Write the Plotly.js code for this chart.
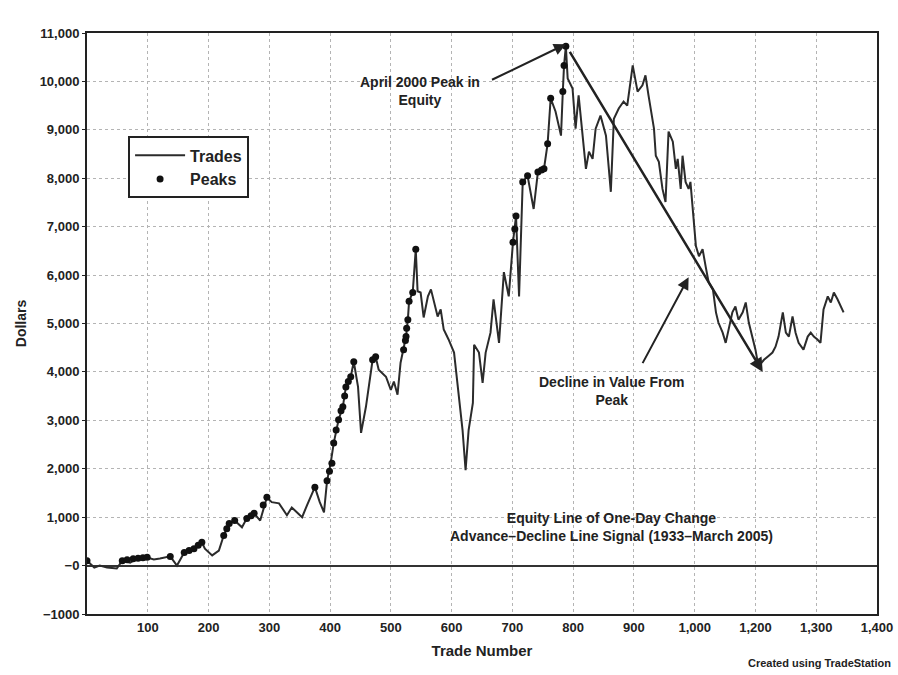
<!DOCTYPE html>
<html>
<head>
<meta charset="utf-8">
<script src="https://cdn.plot.ly/plotly-3.0.1.min.js"></script>
<style>html,body{margin:0;padding:0;background:#fff;}#chart{width:898px;height:675px;}</style>
</head>
<body>
<div id="chart"></div>
<script>
// Equity line (trade number, dollars)
const tradeNumbers = [0,12,21,33,49,58,71,82,99,110,120,137,148,160,176,189,194,206,217,225,234,243,255,263,275,285,296,304,316,329,337,345,354,362,375,383,390,395,401,406,414,421,426,434,439,446,451,459,464,470,475,480,492,500,505,511,516,521,525,528,530,536,541,544,549,554,561,566,571,577,582,587,595,604,612,618,623,628,635,637,645,651,656,664,669,678,686,694,701,706,711,717,725,735,742,752,758,763,771,780,783,785,788,791,799,804,809,816,821,826,832,837,845,854,862,867,875,883,889,898,906,914,919,924,933,936,941,947,952,957,964,969,972,977,980,985,990,993,998,1002,1007,1013,1018,1023,1030,1035,1039,1046,1051,1056,1062,1067,1072,1079,1084,1089,1095,1100,1105,1114,1120,1128,1133,1138,1145,1150,1155,1161,1166,1171,1179,1186,1191,1196,1202,1207,1212,1219,1224,1229,1235,1240,1245];
const equity = [100,-40,0,-40,-60,100,60,145,165,125,145,190,0,270,350,480,350,210,310,620,870,930,790,975,1080,930,1410,1310,1285,1040,1200,1100,1000,1245,1620,1310,1100,1750,2115,2530,3010,3280,3690,3900,4210,3690,2740,3280,3775,4250,4315,4045,3900,3630,3800,3530,4190,4460,4730,5080,5460,5640,6535,5665,5640,5125,5560,5705,5435,5145,5290,4875,4670,4400,3485,2800,1970,2800,3360,4560,4400,3775,4400,4810,5500,4600,6060,5560,6680,7220,5560,7925,8050,7365,8130,8195,8715,9650,9380,8880,9790,10330,10725,10060,9855,9025,9710,8880,8195,8550,8400,9025,9295,8880,7720,9230,9440,9585,9500,10330,9790,9920,10125,9710,9025,8465,8340,7780,7510,8965,8755,8195,8400,7780,8465,7925,7780,7925,7220,6600,6390,6535,6180,5850,5705,5230,5020,4810,4600,4875,5230,5350,5080,5230,5435,5020,4730,4460,4110,4250,4315,4400,4520,4730,5230,4810,4730,5145,4810,4600,4460,4730,4810,4730,4670,4600,5290,5560,5435,5640,5500,5350,5230];

// New equity highs marked as peaks
const peakTrades = [0,58,66,76,84,92,99,137,160,168,176,183,189,225,230,234,243,263,270,275,290,296,375,395,399,403,406,410,414,418,421,424,426,430,434,439,470,475,521,524,525,526,528,530,536,541,701,704,706,717,725,742,748,752,758,763,783,785,788];
const peakValues = [100,100,120,140,150,160,170,190,270,310,350,420,480,620,760,870,930,975,1030,1080,1250,1410,1620,1750,1950,2115,2530,2800,3010,3200,3280,3500,3690,3800,3900,4210,4250,4315,4460,4650,4730,4900,5080,5460,5640,6535,6680,6950,7220,7925,8050,8130,8170,8195,8715,9650,9790,10330,10725];

// Axis ticks (labels as printed on the original)
const xTickVals = [100,200,300,400,500,600,700,800,900,1000,1100,1200,1300];
const xTickText = ['100','200','300','400','500','600','700','800','900','1,000','1,200','1,300','1,400'];
const yTickVals = [-1000,0,1000,2000,3000,4000,5000,6000,7000,8000,9000,10000,11000];
const yTickText = ['−1000','−0','1,000','2,000','3,000','4,000','5,000','6,000','7,000','8,000','9,000','10,000','11,000'];

// Annotation anchor points (trade, dollars)
const peakPoint = [788, 10770];
const peakLabelTail = [664, 10020];
const declineEnd = [1112, 4000];
const declineStart = [793, 10640];
const declineArrowHead = [990, 5955];
const declineArrowTail = [913, 4150];

const FONT = 'Liberation Sans, Arial, Helvetica, sans-serif';
const INK = '#222';

const traces = [
  {x: tradeNumbers, y: equity, type: 'scatter', mode: 'lines', name: 'Trades',
   line: {color: '#2b2b2b', width: 2}},
  {x: peakTrades, y: peakValues, type: 'scatter', mode: 'markers', name: 'Peaks',
   marker: {color: '#111', size: 7}}
];

const layout = {
  width: 898, height: 675,
  margin: {l: 87, r: 21, t: 33, b: 61},
  paper_bgcolor: '#fff', plot_bgcolor: '#fff',
  font: {family: FONT, color: INK, size: 14},
  showlegend: true,
  legend: {x: 0.052, y: 0.822, xanchor: 'left', yanchor: 'top',
           bordercolor: '#222', borderwidth: 2, bgcolor: '#fff',
           font: {family: FONT, size: 16, color: INK, weight: 'bold'},
           itemwidth: 50, tracegroupgap: 6},
  xaxis: {
    range: [0, 1300], tickmode: 'array', tickvals: xTickVals, ticktext: xTickText,
    showgrid: true, gridcolor: '#b4b4b4', griddash: 'dot', gridwidth: 1,
    showline: true, linecolor: '#222', linewidth: 2, mirror: true,
    ticks: '', zeroline: false,
    tickfont: {family: FONT, size: 13, color: INK, weight: 'bold'},
    title: {text: 'Trade Number', font: {family: FONT, size: 15, color: INK, weight: 'bold'}, standoff: 12}
  },
  yaxis: {
    range: [-1000, 11000], tickmode: 'array', tickvals: yTickVals, ticktext: yTickText,
    showgrid: true, gridcolor: '#b4b4b4', griddash: 'dot', gridwidth: 1,
    showline: true, linecolor: '#222', linewidth: 2, mirror: true,
    ticks: 'outside', ticklen: 3, tickcolor: '#222',
    zeroline: true, zerolinecolor: '#333', zerolinewidth: 2,
    tickfont: {family: FONT, size: 13, color: INK, weight: 'bold'},
    title: {text: 'Dollars', font: {family: FONT, size: 14, color: INK, weight: 'bold'}, standoff: 10}
  },
  annotations: [
    {x: peakPoint[0], y: peakPoint[1], ax: peakLabelTail[0], ay: peakLabelTail[1],
     xref: 'x', yref: 'y', axref: 'x', ayref: 'y', text: '', showarrow: true,
     arrowhead: 2, arrowsize: 1.2, arrowwidth: 2, arrowcolor: '#222'},
    {x: declineEnd[0], y: declineEnd[1], ax: declineStart[0], ay: declineStart[1],
     xref: 'x', yref: 'y', axref: 'x', ayref: 'y', text: '', showarrow: true,
     arrowhead: 2, arrowsize: 1.1, arrowwidth: 2.5, arrowcolor: '#222'},
    {x: declineArrowHead[0], y: declineArrowHead[1], ax: declineArrowTail[0], ay: declineArrowTail[1],
     xref: 'x', yref: 'y', axref: 'x', ayref: 'y', text: '', showarrow: true,
     arrowhead: 2, arrowsize: 1.2, arrowwidth: 2, arrowcolor: '#222'},
    {xref: 'paper', yref: 'paper', x: (420-87)/790, y: 1-(91-33)/581, xanchor: 'center', yanchor: 'middle',
     text: 'April 2000 Peak in<br>Equity', showarrow: false,
     font: {family: FONT, size: 14, color: INK, weight: 'bold'}},
    {xref: 'paper', yref: 'paper', x: (612-87)/790, y: 1-(391-33)/581, xanchor: 'center', yanchor: 'middle',
     text: 'Decline in Value From<br>Peak', showarrow: false,
     font: {family: FONT, size: 14, color: INK, weight: 'bold'}},
    {xref: 'paper', yref: 'paper', x: (611-87)/790, y: 1-(527-33)/581, xanchor: 'center', yanchor: 'middle',
     text: 'Equity Line of One-Day Change<br>Advance–Decline Line Signal (1933–March 2005)', showarrow: false,
     font: {family: FONT, size: 14, color: INK, weight: 'bold'}},
    {xref: 'paper', yref: 'paper', x: 1.02, y: -0.085, xanchor: 'right', yanchor: 'middle',
     text: 'Created using TradeStation', showarrow: false,
     font: {family: FONT, size: 11, color: INK, weight: 'bold'}}
  ]
};

Plotly.newPlot('chart', traces, layout, {displayModeBar: false, staticPlot: true});
</script>
</body>
</html>
